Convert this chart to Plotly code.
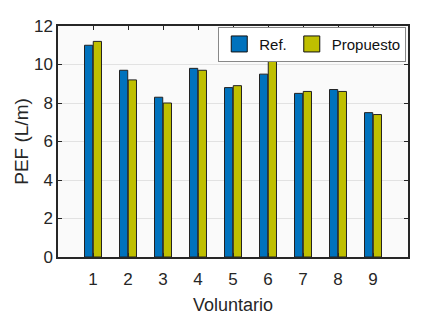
import plotly.graph_objects as go

voluntarios = [1, 2, 3, 4, 5, 6, 7, 8, 9]
ref_vals = [11.0, 9.7, 8.3, 9.8, 8.8, 9.5, 8.5, 8.7, 7.5]
prop_vals = [11.2, 9.2, 8.0, 9.7, 8.9, 10.3, 8.6, 8.6, 7.4]
y_ticks = [0, 2, 4, 6, 8, 10, 12]
series_names = ["Ref.", "Propuesto"]
series_colors = ["#0072BD", "#BFBF00"]

FONT = "Liberation Sans, Arial, sans-serif"

fig = go.Figure()
for name, vals, col in zip(series_names, [ref_vals, prop_vals], series_colors):
    fig.add_trace(go.Bar(x=voluntarios, y=vals, name=name, showlegend=False,
                         marker=dict(color=col, line=dict(color="#222222", width=1))))
# legend entries with larger square swatches
for name, col in zip(series_names, series_colors):
    fig.add_trace(go.Scatter(x=[None], y=[None], mode="markers", name=name,
                             marker=dict(symbol="square", size=16, color=col,
                                         line=dict(color="#111111", width=1))))

fig.update_layout(
    width=424, height=326,
    margin=dict(l=58, r=16, t=26, b=69),
    paper_bgcolor="white", plot_bgcolor="#FAFAFA",
    barmode="group", bargap=0.5, bargroupgap=0.06,
    font=dict(family=FONT, color="#262626", size=17),
    showlegend=True,
    legend=dict(orientation="h", x=0.995, xanchor="right", y=0.997, yanchor="top",
                bgcolor="white", bordercolor="#888888", borderwidth=1,
                font=dict(size=15, color="#111111"), itemwidth=30,
                tracegroupgap=0, itemsizing="trace"),
)
fig.update_xaxes(range=[0, 10], tickvals=voluntarios, ticktext=[str(v) for v in voluntarios],
                 showline=True, linecolor="#262626", linewidth=1.5, mirror="ticks",
                 ticks="inside", ticklen=4, tickcolor="#262626",
                 showgrid=False, zeroline=False, ticklabelstandoff=6,
                 title=dict(text="Voluntario", font=dict(size=18), standoff=10),
                 tickfont=dict(size=17))
fig.update_yaxes(range=[0, 12], tickvals=y_ticks,
                 showline=True, linecolor="#262626", linewidth=1.5, mirror="ticks",
                 ticks="inside", ticklen=4, tickcolor="#262626",
                 showgrid=True, gridcolor="#E2E2E2", gridwidth=1, zeroline=False,
                 title=dict(text="PEF (L/m)", font=dict(size=19), standoff=0),
                 tickfont=dict(size=17))

fig.write_html("out.html")
